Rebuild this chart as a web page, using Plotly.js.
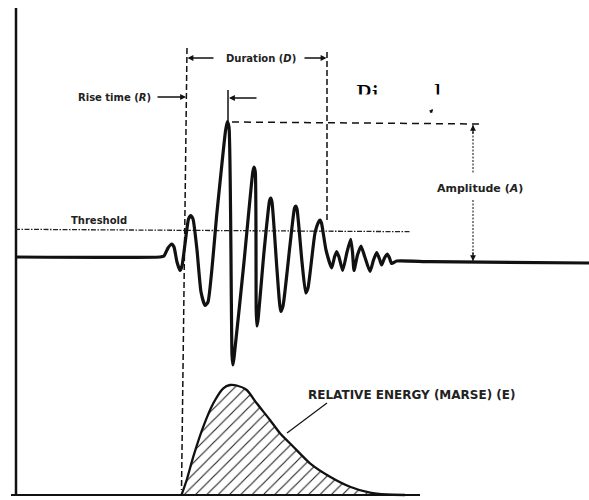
<!DOCTYPE html>
<html>
<head>
<meta charset="utf-8">
<script src="https://cdn.plot.ly/plotly-3.0.1.min.js"></script>
<style>html,body{margin:0;padding:0;background:#fff;}#chart{width:589px;height:500px;}</style>
</head>
<body>
<div id="chart"></div>
<script>
// ---- Data (frame units = picture pixels) ----
const waveX = [15,160,164,168,171.7,174,177,180,182,185,188.5,190.7,193,197,201,205,208,217,225.5,227.3,229,232,232.9,234,244,252.8,254,255.3,256.2,256.9,258,264,269.5,270.7,272,277,280.7,283,290,294.5,295.7,297,302,305.7,308,315,318.8,320,321.5,326,331.7,334.5,336.7,339,342.7,347,350.7,352.5,354,357.5,361,364.5,370,373.5,376.7,379.5,381.7,384.5,387.3,389.5,391.7,396.7,430,589];
const waveY = [257,257,256,248,244,247,262,270.5,266,244,219,215.5,219,250,292,305.5,302,212,131,121.5,127,355,365,358,262,172,167,172,310,326,320,252,201,198,202,270,311.5,306,245,208,206,209,262,293,288,233,221.5,220,223,250,268,257,251.5,257,270.5,252,239.3,252,270.5,255,246,256,271.5,260,252.7,259,265,258,254,258,263.5,261,261.7,263];

const energyX = [181.5,186.7,193.3,203.3,213.3,223.3,230,236.7,246.7,256.7,270,280,293.3,310,330,350,370,386.7,405];
const energyY = [495,480,456.7,426.7,403.3,388.3,385,385.5,390,403.3,420,433.3,446.7,463.3,476.7,486.7,492.7,494.5,495];

const axisLeftX = [16,16],   axisLeftY = [8,495];
const axisBottomX = [11,420], axisBottomY = [495,495];
const thresholdX = [15,411], thresholdY = [229.3,231.7];
const riseStartX = [187,181.5], riseStartY = [48,490];
const durationEndX = [327,327], durationEndY = [52,220];
const riseTickX = [228,228], riseTickY = [90,121];
const ampLineX = [232,482], ampLineY = [122,124];
const ampVertTopX = [473,473], ampVertTopY = [125,173];
const ampVertBotX = [473,473], ampVertBotY = [200,261];
const pointerX = [327,287], pointerY = [403,433];

const labels = {
  duration: "Duration (<i>D</i>)",
  rise: "Rise time (<i>R</i>)",
  threshold: "Threshold",
  amplitude: "Amplitude (<i>A</i>)",
  energy: "RELATIVE ENERGY (MARSE) (E)"
};
const clippedText = ["Pi", "l"];
const clippedX = [356, 434];

// ---- Build the figure ----
const ink = '#111';
function line(x, y, w, dash, color) {
  return {x: x, y: y, type: 'scatter', mode: 'lines', hoverinfo: 'skip',
          line: {color: color || ink, width: w, dash: dash || 'solid'}};
}

const traces = [
  // baseline under the energy curve, used as the lower edge of the hatched fill
  {x: [energyX[0], energyX[energyX.length - 1]], y: [energyY[0], energyY[energyY.length - 1]],
   type: 'scatter', mode: 'lines', hoverinfo: 'skip', line: {width: 0, color: 'rgba(0,0,0,0)'}},
  {x: energyX, y: energyY, type: 'scatter', mode: 'lines', fill: 'tonexty', hoverinfo: 'skip',
   fillcolor: 'white',
   fillpattern: {shape: '/', size: 8, solidity: 0.14, fgcolor: '#222', bgcolor: 'white'},
   line: {color: ink, width: 2.3, shape: 'spline', smoothing: 0.6}},
  line(axisLeftX, axisLeftY, 2.5),
  line(axisBottomX, axisBottomY, 2),
  line(thresholdX, thresholdY, 1.3, '5px,1.5px,1.5px,1.5px', '#222'),
  line(riseStartX, riseStartY, 1.5, '6px,3px'),
  line(durationEndX, durationEndY, 1.5, '6px,3px'),
  line(riseTickX, riseTickY, 1.5),
  line(ampLineX, ampLineY, 1.5, '7px,5px'),
  line(ampVertTopX, ampVertTopY, 1.2, '2px,1.5px', '#333'),
  line(ampVertBotX, ampVertBotY, 1.2, '2px,1.5px', '#333'),
  line(pointerX, pointerY, 1.2),
  {x: waveX, y: waveY, type: 'scatter', mode: 'lines', hoverinfo: 'skip',
   line: {color: ink, width: 3.2, shape: 'spline', smoothing: 0.5}},
  {x: clippedX, y: [96, 96], type: 'scatter', mode: 'text', text: clippedText,
   textposition: 'middle right', hoverinfo: 'skip',
   textfont: {family: 'Liberation Serif', size: 28, color: '#000'}}
];

function arrow(hx, hy, tx, ty, size) {
  return {x: hx, y: hy, ax: tx, ay: ty, xref: 'x', yref: 'y', axref: 'x', ayref: 'y',
          text: '', showarrow: true, arrowhead: 2, arrowsize: size || 0.9, arrowwidth: 1.3, arrowcolor: ink};
}
function label(txt, x, y, size) {
  return {x: x, y: y, xref: 'x', yref: 'y', text: '<b>' + txt + '</b>', showarrow: false,
          font: {family: 'DejaVu Sans', size: size || 10, color: '#222'}};
}

const annotations = [
  arrow(187.5, 58, 215, 58), arrow(326.5, 58, 303, 58),
  arrow(186, 97, 156, 97), arrow(229, 98, 258, 98),
  arrow(473, 125, 473, 135), arrow(473, 261, 473, 251),
  arrow(433, 109, 429, 114, 0.6),
  label(labels.duration, 261, 58),
  label(labels.rise, 114.5, 97),
  label(labels.threshold, 98.5, 220),
  label(labels.amplitude, 480, 188, 11),
  label(labels.energy, 412, 395, 12)
];

const layout = {
  width: 589, height: 500,
  margin: {l: 0, r: 0, t: 0, b: 0},
  paper_bgcolor: 'white', plot_bgcolor: 'white',
  showlegend: false,
  xaxis: {range: [0, 589], visible: false, fixedrange: true},
  yaxis: {range: [500, 0], visible: false, fixedrange: true},
  shapes: [{type: 'rect', xref: 'x', yref: 'y', x0: 340, x1: 470, y0: 94.5, y1: 112,
            fillcolor: 'white', line: {width: 0}, layer: 'above'}],
  annotations: annotations
};

Plotly.newPlot('chart', traces, layout, {displayModeBar: false, staticPlot: true});
</script>
</body>
</html>
